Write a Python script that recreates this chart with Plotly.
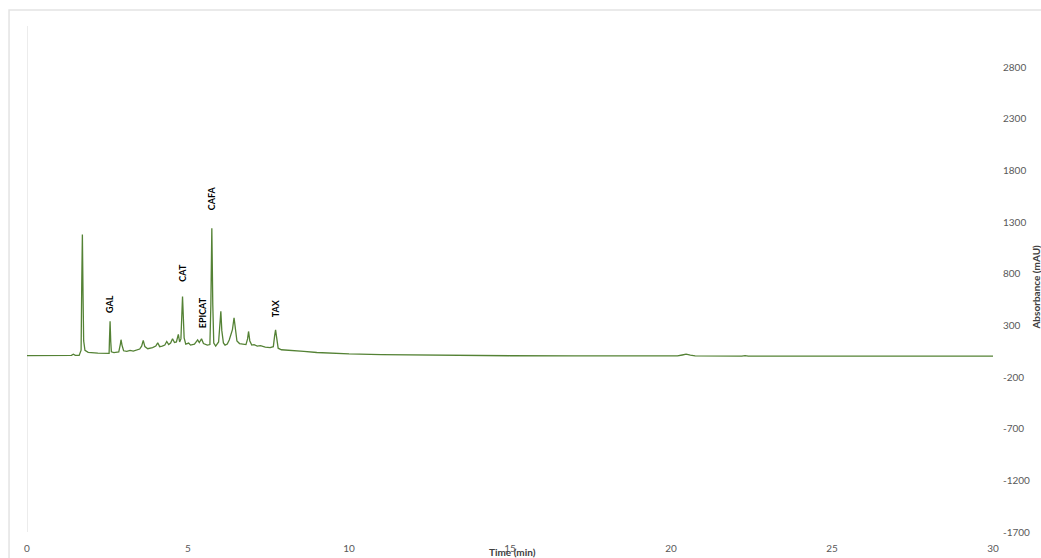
import plotly.graph_objects as go

# Chromatogram trace (time in min, absorbance in mAU)
time_min = [0.0, 1.2, 1.38, 1.44, 1.5, 1.62, 1.68, 1.70, 1.72, 1.74, 1.76, 1.80, 1.9, 2.2, 2.5,
            2.55, 2.56, 2.58, 2.60, 2.62, 2.7, 2.85, 2.90, 2.92, 2.95, 3.0, 3.1, 3.2, 3.3, 3.4,
            3.5, 3.56, 3.61, 3.66, 3.75, 3.9, 4.0, 4.06, 4.12, 4.2, 4.28, 4.34, 4.4, 4.46, 4.52,
            4.58, 4.64, 4.70, 4.74, 4.78, 4.81, 4.83, 4.85, 4.88, 4.93, 5.02, 5.08, 5.2, 5.3, 5.35,
            5.42, 5.48, 5.6, 5.68, 5.71, 5.74, 5.77, 5.80, 5.86, 5.95, 6.0, 6.02, 6.05, 6.1, 6.15,
            6.22, 6.28, 6.34, 6.38, 6.43, 6.47, 6.52, 6.6, 6.7, 6.8, 6.85, 6.88, 6.92, 6.98, 7.05,
            7.15, 7.25, 7.4, 7.55, 7.65, 7.69, 7.72, 7.75, 7.8, 7.9, 8.1, 8.3, 8.6, 9.0, 9.5,
            10.0, 11.0, 12.0, 13.0, 14.0, 15.0, 17.0, 19.0, 20.2, 20.35, 20.47, 20.6, 20.75, 22.2, 22.3,
            22.4, 24.0, 26.0, 27.5, 28.1, 28.7, 30.0]
absorbance = [8, 8, 10, 22, 10, 10, 60, 700, 1180, 600, 150, 60, 40, 32, 28,
              30, 150, 340, 150, 45, 38, 45, 120, 162, 110, 55, 50, 58, 52, 65,
              72, 100, 155, 95, 75, 85, 100, 132, 95, 100, 110, 145, 115, 130, 171,
              135, 140, 213, 140, 170, 400, 581, 420, 180, 120, 130, 110, 120, 160, 135,
              171, 125, 110, 115, 500, 1242, 500, 130, 100, 140, 350, 438, 250, 130, 110,
              120, 160, 235, 260, 375, 250, 150, 125, 120, 115, 170, 242, 150, 110, 115,
              100, 105, 90, 85, 95, 200, 258, 190, 80, 65, 62, 58, 50, 38, 30,
              24, 18, 14, 11, 8, 7, 6, 5, 5, 14, 22, 12, 5, 4, 8,
              4, 4, 4, 5, 9, 5, 3]

# Peak labels
peak_names = ["GAL", "CAT", "EPICAT", "CAFA", "TAX"]
peak_label_t = [2.56, 4.82, 5.46, 5.74, 7.70]
peak_label_v = [513, 813, 426, 1530, 465]

y_ticks = [-1700, -1200, -700, -200, 300, 800, 1300, 1800, 2300, 2800]
y_tick_text = ["-1700", "-1200", "-700", "-200", "300", "800", "1300", "1800", "2300", "2800"]
x_ticks = [0, 5, 10, 15, 20, 25, 30]

FONT = "Lato, 'Open Sans', sans-serif"

fig = go.Figure()
fig.add_trace(go.Scatter(x=time_min, y=absorbance, mode="lines",
                         line=dict(color="#548235", width=1.3), showlegend=False,
                         hoverinfo="x+y"))

for name, t, v in zip(peak_names, peak_label_t, peak_label_v):
    fig.add_annotation(x=t, y=v, xref="x", yref="y", text="<b>" + name + "</b>",
                       textangle=-90, showarrow=False, xanchor="center", yanchor="middle",
                       font=dict(family=FONT, size=9, color="#000000"))

# axis titles
fig.add_annotation(x=0.503, y=-0.04, xref="paper", yref="paper", text="<b>Time (min)</b>",
                   showarrow=False, xanchor="center", yanchor="middle",
                   font=dict(family=FONT, size=10, color="#404040"))
fig.add_annotation(x=1.045, y=0.484, xref="paper", yref="paper", text="<b>Absorbance (mAU)</b>",
                   textangle=-90, showarrow=False, xanchor="center", yanchor="middle",
                   font=dict(family=FONT, size=10, color="#404040"))

# chart area border and vertical axis line at x=0
fig.add_shape(type="rect", xref="paper", yref="paper", x0=-0.0186, x1=1.07, y0=-0.08, y1=1.0316,
              line=dict(color="#e3e3e3", width=1.5), fillcolor="rgba(0,0,0,0)", layer="below")
fig.add_shape(type="line", xref="x", yref="paper", x0=0, x1=0, y0=0, y1=1,
              line=dict(color="#d9d9d9", width=1), layer="below")

fig.update_layout(
    width=1041, height=558,
    margin=dict(l=27, r=48, t=26, b=26, autoexpand=False),
    paper_bgcolor="white", plot_bgcolor="white",
    font=dict(family=FONT, size=10, color="#595959"),
    xaxis=dict(range=[0, 30], tickvals=x_ticks, showgrid=False, zeroline=False,
               showline=False, ticks="", ticklabelstandoff=9, automargin=False,
               tickfont=dict(family=FONT, size=10, color="#595959")),
    yaxis=dict(range=[-1700, 3200], tickvals=y_ticks, ticktext=y_tick_text, side="right",
               showgrid=False, zeroline=False, showline=False, ticks="",
               ticklabelstandoff=9, automargin=False,
               tickfont=dict(family=FONT, size=10, color="#595959")),
)

fig.write_html("out.html")
